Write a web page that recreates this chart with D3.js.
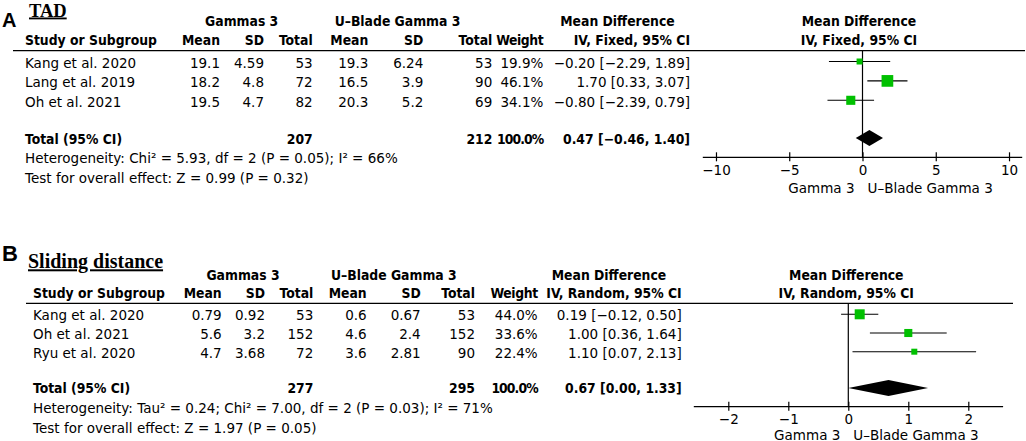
<!DOCTYPE html>
<html>
<head>
<meta charset="utf-8">
<script src="https://cdn.jsdelivr.net/npm/d3@7"></script>
<style>
  html, body { margin: 0; padding: 0; background: #fff; }
  svg { display: block; }
  text { font-family: "DejaVu Sans", sans-serif; fill: #000; }
  .reg { font-size: 13.5px; }
  .bold { font-family: "DejaVu Sans Condensed", "DejaVu Sans", sans-serif; font-stretch: condensed; font-size: 13.8px; font-weight: bold; }
  .tight { letter-spacing: -0.9px; }
  .snug { letter-spacing: -0.4px; }
</style>
</head>
<body>
<svg id="chart" width="1026" height="441"></svg>
<script>
// ---------- Panel A: TAD ----------
const studiesA = ["Kang et al. 2020", "Lang et al. 2019", "Oh et al. 2021"];
const mean1A = ["19.1", "18.2", "19.5"];
const sd1A = ["4.59", "4.8", "4.7"];
const n1A = [53, 72, 82];
const mean2A = ["19.3", "16.5", "20.3"];
const sd2A = ["6.24", "3.9", "5.2"];
const n2A = [53, 90, 69];
const weightA = [19.9, 46.1, 34.1];
const mdA = [-0.20, 1.70, -0.80];
const loA = [-2.29, 0.33, -2.39];
const hiA = [1.89, 3.07, 0.79];
const totalA = { n1: 207, n2: 212, md: 0.47, lo: -0.46, hi: 1.40 };
const hetA = "Heterogeneity: Chi² = 5.93, df = 2 (P = 0.05); I² = 66%";
const testA = "Test for overall effect: Z = 0.99 (P = 0.32)";
const ticksA = [-10, -5, 0, 5, 10];

// ---------- Panel B: Sliding distance ----------
const studiesB = ["Kang et al. 2020", "Oh et al. 2021", "Ryu et al. 2020"];
const mean1B = ["0.79", "5.6", "4.7"];
const sd1B = ["0.92", "3.2", "3.68"];
const n1B = [53, 152, 72];
const mean2B = ["0.6", "4.6", "3.6"];
const sd2B = ["0.67", "2.4", "2.81"];
const n2B = [53, 152, 90];
const weightB = [44.0, 33.6, 22.4];
const mdB = [0.19, 1.00, 1.10];
const loB = [-0.12, 0.36, 0.07];
const hiB = [0.50, 1.64, 2.13];
const totalB = { n1: 277, n2: 295, md: 0.67, lo: 0.00, hi: 1.33 };
const hetB = "Heterogeneity: Tau² = 0.24; Chi² = 7.00, df = 2 (P = 0.03); I² = 71%";
const testB = "Test for overall effect: Z = 1.97 (P = 0.05)";
const ticksB = [-2, -1, 0, 1, 2];

const svg = d3.select("#chart");
const f2 = d3.format(".2f");
const minus = s => s.replace(/-/g, "−");
const ciText = (m, l, h) => minus(`${f2(m)} [${f2(l)}, ${f2(h)}]`);

function panel(cfg) {
  const g = svg.append("g");
  const T = (x, y, txt, cls, anchor) =>
    g.append("text").attr("x", x).attr("y", y).attr("class", cls)
      .attr("text-anchor", anchor || "start").text(txt);

  // panel letter and title
  g.append("text").attr("x", 2).attr("y", cfg.letterY)
    .style("font-family", "Liberation Sans, Arial, sans-serif")
    .style("font-weight", "bold").style("font-size", cfg.letterSize + "px")
    .text(cfg.letter);
  g.append("text").attr("x", cfg.titleX).attr("y", cfg.titleY)
    .style("font-family", "Liberation Serif, Times New Roman, serif")
    .style("font-weight", "bold").style("font-size", cfg.titleSize + "px")
    .style("text-decoration", "underline")
    .text(cfg.title);

  const c = cfg.cols;
  // group headers
  T(c.g1, cfg.y.group, "Gammas 3", "bold", "middle");
  T(c.g2, cfg.y.group, "U–Blade Gamma 3", "bold", "middle");
  T(c.mdL, cfg.y.group, "Mean Difference", "bold", "middle");
  T(c.mdR, cfg.y.group, "Mean Difference", "bold", "middle");
  // column headers
  T(c.left, cfg.y.head, "Study or Subgroup", "bold");
  T(c.m1, cfg.y.head, "Mean", "bold", "end");
  T(c.s1, cfg.y.head, "SD", "bold", "end");
  T(c.n1, cfg.y.head, "Total", "bold", "end");
  T(c.m2, cfg.y.head, "Mean", "bold", "end");
  T(c.s2, cfg.y.head, "SD", "bold", "end");
  T(c.n2, cfg.y.head, "Total", "bold", "end");
  T(c.w, cfg.y.head, "Weight", "bold snug", "end");
  T(c.ci, cfg.y.head, cfg.method, "bold", "end");
  T(c.mdR, cfg.y.head, cfg.method, "bold", "middle");

  // header rule
  g.append("line").attr("x1", cfg.rule[0]).attr("x2", cfg.rule[1])
    .attr("y1", cfg.y.rule).attr("y2", cfg.y.rule)
    .attr("stroke", "#000").attr("stroke-width", 1.3);

  // rows
  const rowY = d3.scalePoint().domain(cfg.studies).range(cfg.rowRange);
  cfg.studies.forEach((s, i) => {
    const y = rowY(s) + cfg.baseOff;
    T(c.left, y, s, "reg");
    T(c.m1, y, cfg.mean1[i], "reg", "end");
    T(c.s1, y, cfg.sd1[i], "reg", "end");
    T(c.n1, y, cfg.n1[i], "reg", "end");
    T(c.m2, y, cfg.mean2[i], "reg", "end");
    T(c.s2, y, cfg.sd2[i], "reg", "end");
    T(c.n2, y, cfg.n2[i], "reg", "end");
    T(c.w, y, cfg.weight[i].toFixed(1) + "%", "reg", "end");
    T(c.ci, y, ciText(cfg.md[i], cfg.lo[i], cfg.hi[i]), "reg", "end");
  });
  // totals
  const tot = cfg.total;
  T(c.left, cfg.y.total, "Total (95% CI)", "bold");
  T(c.n1, cfg.y.total, tot.n1, "bold", "end");
  T(c.n2, cfg.y.total, tot.n2, "bold", "end");
  T(c.w, cfg.y.total, "100.0%", "bold tight", "end");
  T(c.ci, cfg.y.total, ciText(tot.md, tot.lo, tot.hi), "bold", "end");
  T(c.left, cfg.y.het, cfg.het, "reg");
  T(c.left, cfg.y.test, cfg.test, "reg");

  // forest plot
  const x = cfg.x;
  // zero line
  g.append("line").attr("x1", x(0)).attr("x2", x(0))
    .attr("y1", cfg.y.rule).attr("y2", cfg.y.axis)
    .attr("stroke", "#000").attr("stroke-width", 1.2);
  // CIs and squares
  const side = cfg.side;
  cfg.studies.forEach((s, i) => {
    const cy = rowY(s);
    g.append("line").attr("x1", x(cfg.lo[i])).attr("x2", x(cfg.hi[i]))
      .attr("y1", cy).attr("y2", cy).attr("stroke", "#000").attr("stroke-width", 1.1);
    const w = side(cfg.weight[i]);
    g.append("rect").attr("x", x(cfg.md[i]) - w / 2).attr("y", cy - w / 2)
      .attr("width", w).attr("height", w).attr("fill", "#00c000");
  });
  // diamond
  const dy = cfg.y.diamond, dh = 8;
  g.append("path")
    .attr("d", d3.line()([[x(tot.lo), dy], [x(tot.md), dy - dh], [x(tot.hi), dy], [x(tot.md), dy + dh]]) + "Z")
    .attr("fill", "#000");

  // axis
  const axis = g.append("g").attr("transform", `translate(0,${cfg.y.axis})`)
    .call(d3.axisBottom(x).tickValues(cfg.ticks).tickFormat(d3.format("d")).tickSizeOuter(0).tickSize(4));
  axis.select(".domain").attr("stroke", "#000").attr("stroke-width", 1.3)
    .attr("d", `M${x.range()[0]},0H${x.range()[1]}`);
  axis.selectAll(".tick line").attr("y1", -5).attr("y2", 4).attr("stroke", "#000").attr("stroke-width", 1.2);
  axis.selectAll(".tick text").attr("class", "reg").attr("y", 17.5).attr("dy", null)
    .style("font-family", "DejaVu Sans, sans-serif").style("font-size", "13.5px");
  // axis labels
  T(x(0) - 8, cfg.y.axisLab, "Gamma 3", "reg", "end");
  T(x(0) + 5, cfg.y.axisLab, "U–Blade Gamma 3", "reg", "start");
}

// Panel A
const xA = d3.scaleLinear().domain([-10.9, 10.9]).range([702.8, 1022.2]);
panel({
  letter: "A", letterY: 26.5, letterSize: 20,
  title: "TAD", titleX: 29, titleY: 16.5, titleSize: 18.5,
  method: "IV, Fixed, 95% CI",
  studies: studiesA, mean1: mean1A, sd1: sd1A, n1: n1A, mean2: mean2A, sd2: sd2A, n2: n2A,
  weight: weightA, md: mdA, lo: loA, hi: hiA, total: totalA, het: hetA, test: testA,
  ticks: ticksA, x: xA,
  side: d3.scaleLinear().domain([19.9, 46.1]).range([6, 11.7]),
  cols: { left: 25, m1: 220, s1: 264, n1: 312.7, m2: 368.3, s2: 423.3, n2: 492.3, w: 543.3, ci: 690,
          g1: 241.7, g2: 397.5, mdL: 617.5, mdR: 859 },
  rule: [13, 1025],
  rowRange: [61.5, 100.3], baseOff: 6.2,
  y: { group: 26, head: 45, rule: 50.7, total: 144, het: 162.7, test: 183.3,
       diamond: 138, axis: 157.3, axisLab: 192.5 }
});

// Panel B
const xB = d3.scaleLinear().domain([-2.575, 2.58]).range([693.8, 1003.1]);
panel({
  letter: "B", letterY: 261, letterSize: 22,
  title: "Sliding distance", titleX: 28, titleY: 268.3, titleSize: 20,
  method: "IV, Random, 95% CI",
  studies: studiesB, mean1: mean1B, sd1: sd1B, n1: n1B, mean2: mean2B, sd2: sd2B, n2: n2B,
  weight: weightB, md: mdB, lo: loB, hi: hiB, total: totalB, het: hetB, test: testB,
  ticks: ticksB, x: xB,
  side: d3.scaleLinear().domain([22.4, 44.0]).range([6, 10]),
  cols: { left: 33, m1: 221.7, s1: 265, n1: 313.3, m2: 366.7, s2: 420.7, n2: 475, w: 537.7, ci: 681.7,
          g1: 243, g2: 393.8, mdL: 609, mdR: 846.3 },
  rule: [26, 1013],
  rowRange: [314.3, 351.7], baseOff: 6,
  y: { group: 280, head: 298.3, rule: 303.3, total: 392.7, het: 413.3, test: 433.3,
       diamond: 388, axis: 406.7, axisLab: 439.5 }
});
</script>
</body>
</html>
